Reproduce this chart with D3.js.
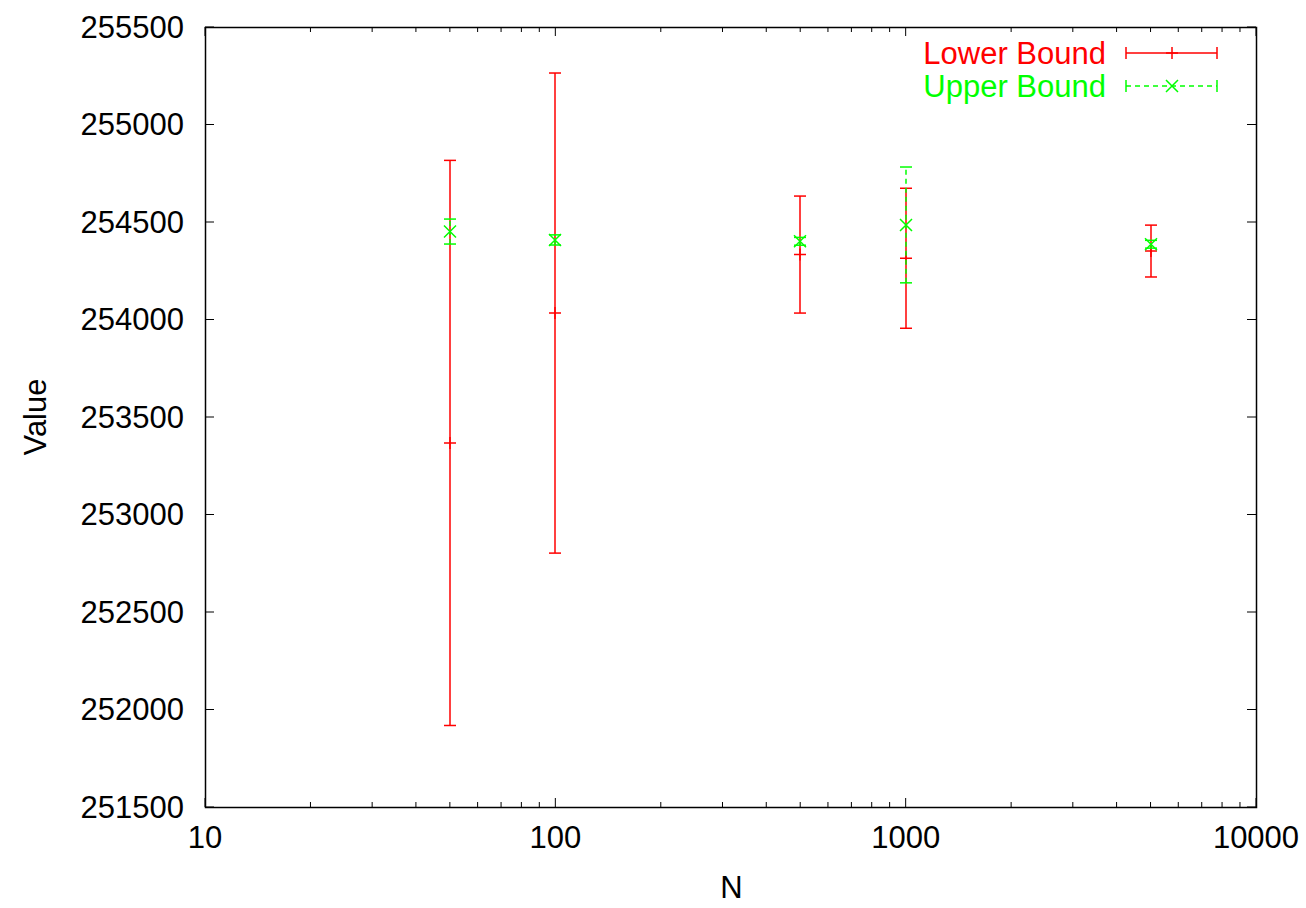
<!DOCTYPE html>
<html>
<head>
<meta charset="utf-8">
<style>
body { margin: 0; background: #fff; }
svg { font-family: 'Liberation Sans', Arial, sans-serif; }
</style>
</head>
<body>
<svg></svg>
<script src="https://d3js.org/d3.v7.min.js"></script>
<script>

// data
const nValues = [50, 100, 500, 1000, 5000];
const lowerMean = [253367, 254033, 254333, 254314, 254351];
const lowerErr = [1449, 1231, 300, 359, 133];
const upperMean = [254451, 254408, 254401, 254485, 254386];
const upperErr = [64, 26, 20, 297, 20];
const yTicks = [251500, 252000, 252500, 253000, 253500, 254000, 254500, 255000, 255500];
const xTicks = [10, 100, 1000, 10000];

const fullWidth = 1306;
const fullHeight = 908;
const margin = {top: 27, right: 50, bottom: 101, left: 205};
const width = fullWidth - margin.left - margin.right;
const height = fullHeight - margin.top - margin.bottom;
const fontSize = 31;

const svg = d3.select('svg')
    .attr('width', fullWidth)
    .attr('height', fullHeight);

const x = d3.scaleLog().domain([10, 10000]).range([margin.left, margin.left + width]);
const y = d3.scaleLinear().domain([251500, 255500]).range([margin.top + height, margin.top]);

const g = svg.append('g');

// ticks, gnuplot style: inward on all four sides
const minorX = [];
for (let d = 10; d < 10000; d *= 10) {
    for (let k = 2; k <= 9; k++) minorX.push(d * k);
}
const tickLen = 9;
const minorLen = 5;

yTicks.forEach(v => {
    g.append('line').attr('x1', x.range()[0]).attr('x2', x.range()[0] + tickLen)
        .attr('y1', y(v)).attr('y2', y(v)).attr('stroke', '#000');
    g.append('line').attr('x1', x.range()[1]).attr('x2', x.range()[1] - tickLen)
        .attr('y1', y(v)).attr('y2', y(v)).attr('stroke', '#000');
    g.append('text').attr('x', margin.left - 21).attr('y', y(v))
        .attr('text-anchor', 'end').attr('dominant-baseline', 'central')
        .attr('font-size', fontSize).text(v);
});

xTicks.forEach(v => {
    g.append('line').attr('x1', x(v)).attr('x2', x(v))
        .attr('y1', y.range()[0]).attr('y2', y.range()[0] - tickLen).attr('stroke', '#000');
    g.append('line').attr('x1', x(v)).attr('x2', x(v))
        .attr('y1', y.range()[1]).attr('y2', y.range()[1] + tickLen).attr('stroke', '#000');
    g.append('text').attr('x', x(v)).attr('y', margin.top + height + 30)
        .attr('text-anchor', 'middle').attr('dominant-baseline', 'central')
        .attr('font-size', fontSize).text(v);
});

minorX.forEach(v => {
    g.append('line').attr('x1', x(v)).attr('x2', x(v))
        .attr('y1', y.range()[0]).attr('y2', y.range()[0] - minorLen).attr('stroke', '#000');
    g.append('line').attr('x1', x(v)).attr('x2', x(v))
        .attr('y1', y.range()[1]).attr('y2', y.range()[1] + minorLen).attr('stroke', '#000');
});

// frame
g.append('rect')
    .attr('x', margin.left + 0.5).attr('y', margin.top + 0.5)
    .attr('width', width).attr('height', height)
    .attr('fill', 'none').attr('stroke', '#000').attr('stroke-width', 1.5);

// axis titles
svg.append('text').attr('x', x(Math.sqrt(10 * 10000)) + 1).attr('y', 887)
    .attr('text-anchor', 'middle').attr('dominant-baseline', 'central')
    .attr('font-size', fontSize).text('N');
svg.append('text')
    .attr('transform', `translate(35,${margin.top + height / 2}) rotate(-90)`)
    .attr('text-anchor', 'middle').attr('dominant-baseline', 'central')
    .attr('font-size', fontSize).text('Value');

const capW = 6;
const markS = 6;

function errorBar(sel, cx, cy, ylo, yhi, color, dash) {
    sel.append('line').attr('x1', cx).attr('x2', cx).attr('y1', ylo).attr('y2', yhi)
        .attr('stroke', color).attr('stroke-width', 1.5).attr('stroke-dasharray', dash);
    [ylo, yhi].forEach(yy => {
        sel.append('line').attr('x1', cx - capW).attr('x2', cx + capW)
            .attr('y1', yy).attr('y2', yy).attr('stroke', color).attr('stroke-width', 1.5);
    });
}

function plusMark(sel, cx, cy, color) {
    sel.append('path')
        .attr('d', `M${cx - markS},${cy}H${cx + markS}M${cx},${cy - markS}V${cy + markS}`)
        .attr('stroke', color).attr('stroke-width', 1.5).attr('fill', 'none');
}

function crossMark(sel, cx, cy, color) {
    sel.append('path')
        .attr('d', `M${cx - markS},${cy - markS}L${cx + markS},${cy + markS}M${cx - markS},${cy + markS}L${cx + markS},${cy - markS}`)
        .attr('stroke', color).attr('stroke-width', 1.5).attr('fill', 'none');
}

const red = '#ff0000';
const green = '#00ff00';

const lowerG = svg.append('g');
nValues.forEach((n, i) => {
    const cx = Math.round(x(n));
    errorBar(lowerG, cx, y(lowerMean[i]), y(lowerMean[i] - lowerErr[i]), y(lowerMean[i] + lowerErr[i]), red, null);
    plusMark(lowerG, cx, y(lowerMean[i]), red);
});

const upperG = svg.append('g');
nValues.forEach((n, i) => {
    const cx = Math.round(x(n));
    errorBar(upperG, cx, y(upperMean[i]), y(upperMean[i] - upperErr[i]), y(upperMean[i] + upperErr[i]), green, '5,4');
    crossMark(upperG, cx, y(upperMean[i]), green);
});

// legend
const legend = svg.append('g');
const legendItems = [
    {label: 'Lower Bound', color: red, dash: null, mark: plusMark, ly: 53},
    {label: 'Upper Bound', color: green, dash: '5,4', mark: crossMark, ly: 86},
];
legendItems.forEach(d => {
    legend.append('text').attr('x', 1106).attr('y', d.ly)
        .attr('text-anchor', 'end').attr('dominant-baseline', 'central')
        .attr('font-size', fontSize).attr('fill', d.color).text(d.label);
    legend.append('line').attr('x1', 1126).attr('x2', 1217).attr('y1', d.ly).attr('y2', d.ly)
        .attr('stroke', d.color).attr('stroke-width', 1.5).attr('stroke-dasharray', d.dash);
    [1126, 1217].forEach(xx => {
        legend.append('line').attr('x1', xx).attr('x2', xx)
            .attr('y1', d.ly - 6).attr('y2', d.ly + 6).attr('stroke', d.color).attr('stroke-width', 1.5);
    });
    d.mark(legend, 1172, d.ly, d.color);
});

</script>
</body>
</html>
